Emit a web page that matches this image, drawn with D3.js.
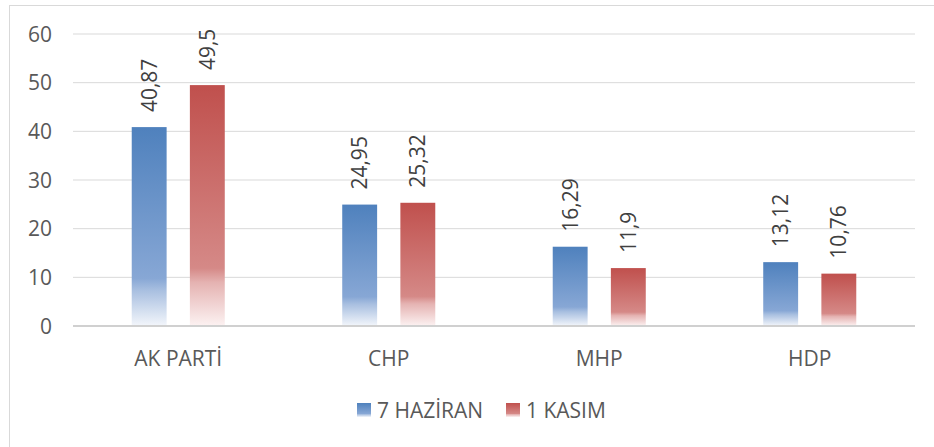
<!DOCTYPE html>
<html>
<head>
<meta charset="utf-8">
<script src="https://cdn.jsdelivr.net/npm/d3@7"></script>
<style>
  html, body { margin: 0; padding: 0; background: #fff; }
  svg { display: block; font-family: "Open Sans", sans-serif; }
</style>
</head>
<body>
<div id="showBox"></div>
<script>
// data
const categories = ["AK PARTİ", "CHP", "MHP", "HDP"]
const seriesNames = ["7 HAZİRAN", "1 KASIM"]
const haziran = [40.87, 24.95, 16.29, 13.12]
const kasim = [49.5, 25.32, 11.9, 10.76]
const yTicks = [0, 10, 20, 30, 40, 50, 60]

const width = 934, height = 447
const margin = {left: 73, right: 19, top: 34, bottom: 121}
const fontSize = 21

const colors = [
    {top: "#4f81bd", mid: "#87a7d5", low: "#a8bfe0", bottom: "#f3f6fb"},
    {top: "#c0504d", mid: "#d58987", low: "#e5b3b2", bottom: "#fcf2f2"}
]

const rows = categories.map((c, i) => ({cat: c, values: [haziran[i], kasim[i]]}))

const svg = d3.select("#showBox").append("svg")
    .attr("width", width)
    .attr("height", height)

// gradients like the office preset: darker on top, fading to white at the base
const defs = svg.append("defs")
colors.forEach((c, i) => {
    const g = defs.append("linearGradient")
        .attr("id", "grad" + i)
        .attr("x1", 0).attr("y1", 0).attr("x2", 0).attr("y2", 1)
    g.append("stop").attr("offset", "0%").attr("stop-color", c.top)
    g.append("stop").attr("offset", "76%").attr("stop-color", c.mid)
    g.append("stop").attr("offset", "82%").attr("stop-color", c.low)
    g.append("stop").attr("offset", "100%").attr("stop-color", c.bottom)
})

// outer frame
svg.append("rect")
    .attr("x", 9.5).attr("y", 5.5)
    .attr("width", 940).attr("height", 460)
    .attr("fill", "none")
    .attr("stroke", "#d9d9d9")

const x0 = d3.scaleBand()
    .domain(categories)
    .range([margin.left, width - margin.right])
    .paddingInner(0.558)
    .paddingOuter(0.279)

const x1 = d3.scaleBand()
    .domain([0, 1])
    .range([0, x0.bandwidth()])
    .paddingInner(0.4)

const y = d3.scaleLinear()
    .domain([0, 60])
    .range([height - margin.bottom, margin.top])

// grid
svg.append("g")
    .selectAll("line")
    .data(yTicks.filter(d => d > 0))
    .join("line")
    .attr("x1", margin.left)
    .attr("x2", width - margin.right)
    .attr("y1", d => y(d))
    .attr("y2", d => y(d))
    .attr("stroke", "#d9d9d9")
    .attr("stroke-width", 1)

// y labels
svg.append("g")
    .attr("text-anchor", "end")
    .attr("font-size", fontSize)
    .attr("fill", "#595959")
    .selectAll("text")
    .data(yTicks)
    .join("text")
    .attr("x", 52)
    .attr("y", d => y(d))
    .attr("dy", "0.36em")
    .text(d => d)

// bars
const groups = svg.append("g")
    .selectAll("g")
    .data(rows)
    .join("g")
    .attr("transform", d => `translate(${x0(d.cat)},0)`)

groups.selectAll("rect")
    .data(d => d.values)
    .join("rect")
    .attr("x", (d, i) => x1(i))
    .attr("y", d => y(d))
    .attr("width", x1.bandwidth())
    .attr("height", d => y(0) - y(d))
    .attr("fill", (d, i) => `url(#grad${i})`)

groups.selectAll("text")
    .data(d => d.values)
    .join("text")
    .attr("transform", (d, i) => `translate(${x1(i) + x1.bandwidth() / 2},${y(d) - 15}) rotate(-90)`)
    .attr("dy", "0.36em")
    .attr("font-size", fontSize)
    .attr("fill", "#404040")
    .text(d => String(d).replace(".", ","))

// x axis line
svg.append("line")
    .attr("x1", margin.left)
    .attr("x2", width - margin.right)
    .attr("y1", y(0))
    .attr("y2", y(0))
    .attr("stroke", "#d0d0d0")
    .attr("stroke-width", 2)

// category labels
svg.append("g")
    .attr("text-anchor", "middle")
    .attr("font-size", fontSize)
    .attr("fill", "#595959")
    .selectAll("text")
    .data(categories)
    .join("text")
    .attr("x", d => x0(d) + x0.bandwidth() / 2)
    .attr("y", 366)
    .text(d => d)

// legend
const legendX = [357, 506]
const legend = svg.append("g")
    .selectAll("g")
    .data(seriesNames)
    .join("g")
    .attr("transform", (d, i) => `translate(${legendX[i]},403)`)

legend.append("rect")
    .attr("width", 14)
    .attr("height", 14)
    .attr("fill", (d, i) => `url(#grad${i})`)

legend.append("text")
    .attr("x", 20)
    .attr("y", 15)
    .attr("font-size", fontSize)
    .attr("fill", "#595959")
    .text(d => d)
</script>
</body>
</html>
